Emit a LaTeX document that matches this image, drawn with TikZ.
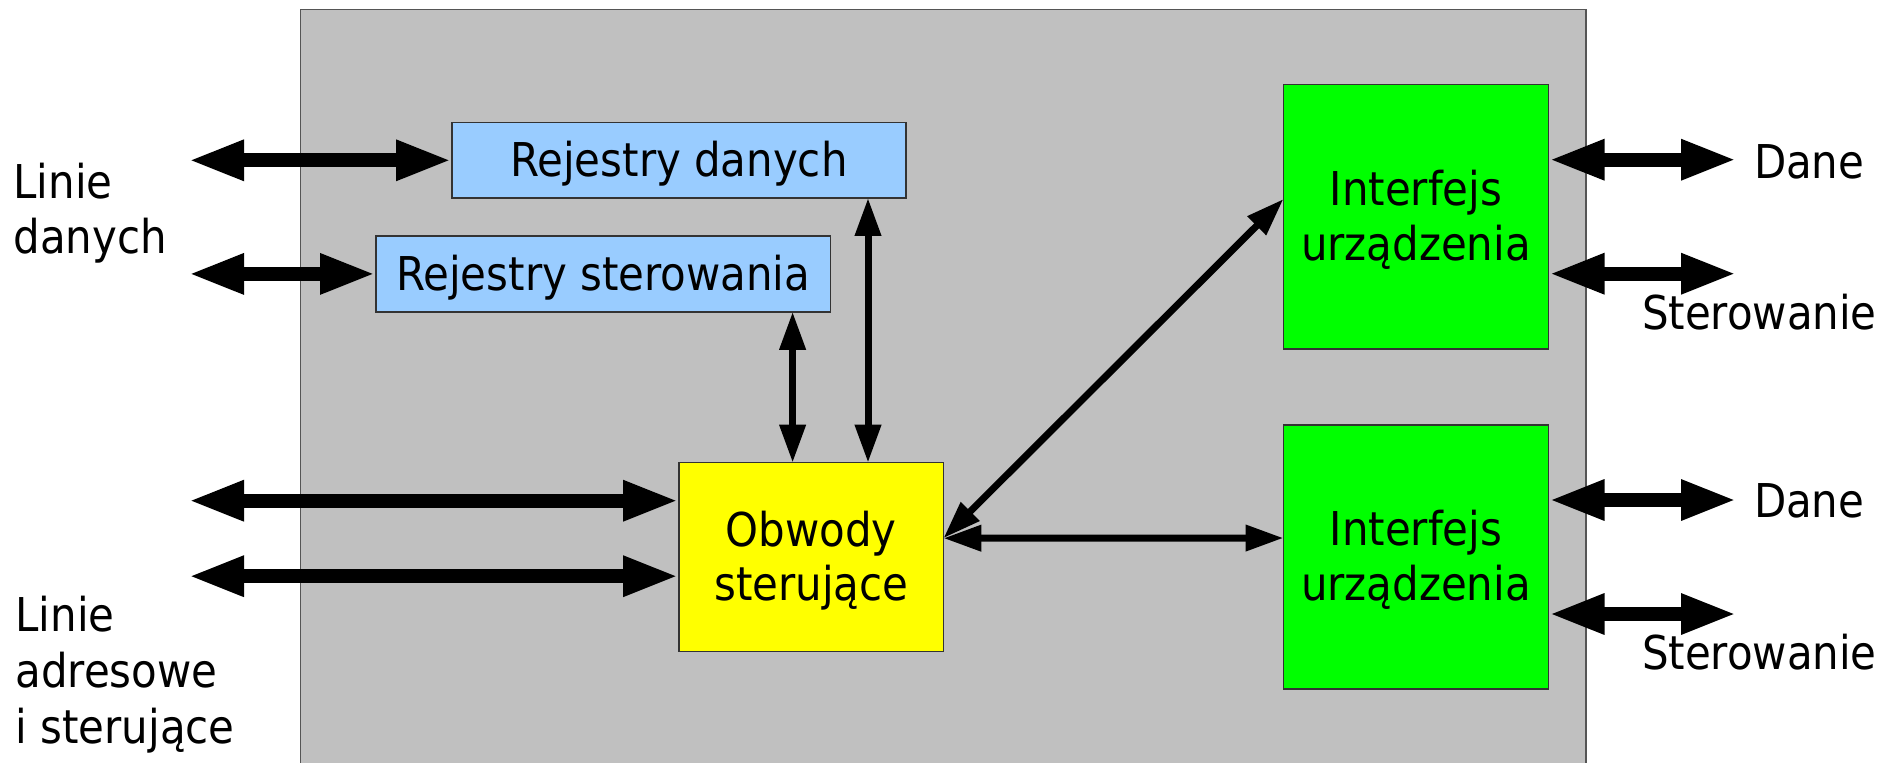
\documentclass[tikz,border=0pt]{standalone}
\usepackage{fontspec}
\setmainfont{DejaVu Sans Condensed}
\usetikzlibrary{arrows.meta}
\definecolor{bggray}{HTML}{C0C0C0}
\definecolor{frame}{HTML}{555555}
\definecolor{boxline}{HTML}{333333}
\definecolor{regblue}{HTML}{99CCFF}
\definecolor{ctlyellow}{HTML}{FFFF00}
\definecolor{ifgreen}{HTML}{00FF00}
\newcommand{\lbl}{\fontsize{23.3pt}{27.2pt}\selectfont}
\newcommand{\lblwide}{\fontsize{23.3pt}{28pt}\selectfont}
\newcommand{\tstr}{\rule{0pt}{21.6pt}}
\newcommand{\bstr}{\rule[-5.5pt]{0pt}{0pt}}
\begin{document}
\begin{tikzpicture}[x=0.5pt,y=-0.5pt,
  box/.style={draw=boxline, line width=0.75pt, inner sep=0pt, outer sep=0pt, align=center, font=\lbl},
  outer/.style={inner sep=0pt, outer sep=0pt, align=left, font=\lbl, anchor=base west},
  bigarrow/.style={line width=7pt, {Triangle[length=28pt,width=18.5pt]}-{Triangle[length=28pt,width=18.5pt]}},
  smallarrow/.style={line width=3.5pt, {Triangle[length=19pt,width=12.5pt]}-{Triangle[length=19pt,width=12.5pt]}}
]
\useasboundingbox (0,0) rectangle (1899,762);
\clip (0,0) rectangle (1899,762);
\fill[bggray, draw=frame, line width=0.75pt] (300.5,9.5) rectangle (1586,800);

% boxes
\node[box, fill=regblue, minimum width=227pt, minimum height=37.65pt] (rd) at (679,160.3) {\tstr Rejestry danych\bstr};
\node[box, fill=regblue, minimum width=227.3pt, minimum height=37.85pt] (rs) at (603.3,273.9) {\tstr Rejestry sterowania\bstr};
\node[box, fill=ctlyellow, minimum width=132.2pt, minimum height=94.5pt] (obw) at (811.2,557.2) {\tstr Obwody\\sterujące\bstr};
\node[box, fill=ifgreen, minimum width=132.5pt, minimum height=132.4pt] (if1) at (1416,216.7) {\tstr Interfejs\\urządzenia\bstr};
\node[box, fill=ifgreen, minimum width=132.5pt, minimum height=132pt] (if2) at (1416,557) {\tstr Interfejs\\urządzenia\bstr};

% outer labels (base anchor = last line baseline)
\node[outer] (ld) at (13.5,253) {Linie\\danych};
\node[outer, font=\lblwide] (la) at (15.5,743.3) {Linie\\adresowe\\i sterujące};
\node[outer] (d1) at (1754,178.7) {Dane};
\node[outer] (s1) at (1642,329) {Sterowanie};
\node[outer] (d2) at (1754,517.7) {Dane};
\node[outer] (s2) at (1642,669) {Sterowanie};

% free ends
\coordinate (l1) at (188,160.3);
\coordinate (l2) at (188,273.9);
\coordinate (l3) at (188,500.7);
\coordinate (l4) at (188,576.2);
\coordinate (r1) at (1737,159.7);
\coordinate (r2) at (1737,273.7);
\coordinate (r3) at (1737,500);
\coordinate (r4) at (1737,614);

% big arrows
\draw[bigarrow] (l1) -- (rd.west);
\draw[bigarrow] (l2) -- (rs.west);
\draw[bigarrow] (l3) -- (l3 -| obw.west);
\draw[bigarrow] (l4) -- (l4 -| obw.west);
\draw[bigarrow] (r1 -| if1.east) -- (r1);
\draw[bigarrow] (r2 -| if1.east) -- (r2);
\draw[bigarrow] (r3 -| if2.east) -- (r3);
\draw[bigarrow] (r4 -| if2.east) -- (r4);

% small arrows
\draw[smallarrow] ([xshift=-9.3pt]obw.north) -- ([xshift=-9.3pt]obw.north |- rs.south);
\draw[smallarrow] ([xshift=28.4pt]obw.north) -- ([xshift=28.4pt]obw.north |- rd.south);
\draw[smallarrow] ([yshift=9.5pt]obw.east) -- ([yshift=9.5pt]if2.west);
\draw[smallarrow] ([yshift=9.5pt]obw.east) -- ([yshift=8.85pt]if1.west);
\end{tikzpicture}
\end{document}
